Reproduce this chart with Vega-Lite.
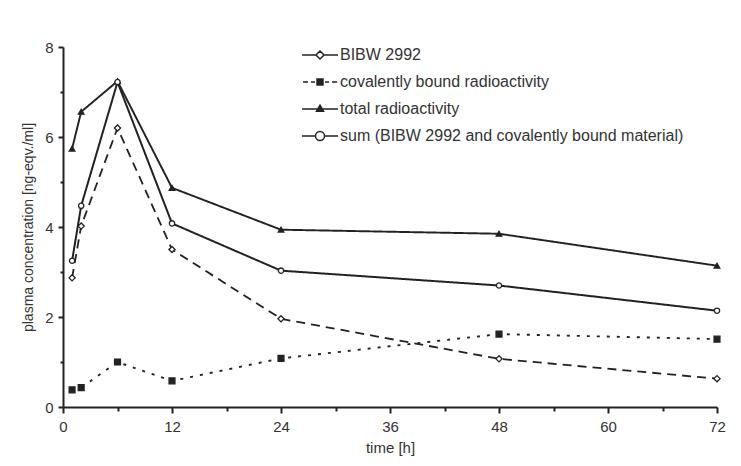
{
  "$schema": "https://vega.github.io/schema/vega-lite/v6.json",
  "width": 654,
  "height": 360,
  "autosize": "none",
  "padding": {"left": 63, "top": 47, "right": 24, "bottom": 59},
  "background": "white",
  "data": {
    "values": [
      {"t": 1, "conc": 2.87, "series": "BIBW 2992"},
      {"t": 2, "conc": 4.02, "series": "BIBW 2992"},
      {"t": 6, "conc": 6.2, "series": "BIBW 2992"},
      {"t": 12, "conc": 3.5, "series": "BIBW 2992"},
      {"t": 24, "conc": 1.96, "series": "BIBW 2992"},
      {"t": 48, "conc": 1.07, "series": "BIBW 2992"},
      {"t": 72, "conc": 0.63, "series": "BIBW 2992"},
      {"t": 1, "conc": 0.38, "series": "covalently bound radioactivity"},
      {"t": 2, "conc": 0.43, "series": "covalently bound radioactivity"},
      {"t": 6, "conc": 1.0, "series": "covalently bound radioactivity"},
      {"t": 12, "conc": 0.58, "series": "covalently bound radioactivity"},
      {"t": 24, "conc": 1.08, "series": "covalently bound radioactivity"},
      {"t": 48, "conc": 1.62, "series": "covalently bound radioactivity"},
      {"t": 72, "conc": 1.51, "series": "covalently bound radioactivity"},
      {"t": 1, "conc": 5.74, "series": "total radioactivity"},
      {"t": 2, "conc": 6.56, "series": "total radioactivity"},
      {"t": 6, "conc": 7.24, "series": "total radioactivity"},
      {"t": 12, "conc": 4.87, "series": "total radioactivity"},
      {"t": 24, "conc": 3.94, "series": "total radioactivity"},
      {"t": 48, "conc": 3.85, "series": "total radioactivity"},
      {"t": 72, "conc": 3.14, "series": "total radioactivity"},
      {"t": 1, "conc": 3.25, "series": "sum (BIBW 2992 and covalently bound material)"},
      {"t": 2, "conc": 4.47, "series": "sum (BIBW 2992 and covalently bound material)"},
      {"t": 6, "conc": 7.22, "series": "sum (BIBW 2992 and covalently bound material)"},
      {"t": 12, "conc": 4.08, "series": "sum (BIBW 2992 and covalently bound material)"},
      {"t": 24, "conc": 3.03, "series": "sum (BIBW 2992 and covalently bound material)"},
      {"t": 48, "conc": 2.7, "series": "sum (BIBW 2992 and covalently bound material)"},
      {"t": 72, "conc": 2.14, "series": "sum (BIBW 2992 and covalently bound material)"}
    ]
  },
  "encoding": {
    "x": {
      "field": "t",
      "type": "quantitative",
      "scale": {"domain": [0, 72], "nice": false},
      "axis": {
        "title": "time [h]",
        "values": [0, 6, 12, 18, 24, 30, 36, 42, 48, 54, 60, 66, 72],
        "labelExpr": "datum.value % 12 ? '' : datum.label",
        "tickSize": {"condition": {"test": "datum.value % 12", "value": 4}, "value": 6},
        "labelFlush": false,
        "labelOverlap": false,
        "labelPadding": 6,
        "titlePadding": 6
      }
    },
    "y": {
      "field": "conc",
      "type": "quantitative",
      "scale": {"domain": [0, 8], "nice": false},
      "axis": {
        "title": "plasma concentration [ng-eqv./ml]",
        "values": [0, 1, 2, 3, 4, 5, 6, 7, 8],
        "labelExpr": "datum.value % 2 ? '' : datum.label",
        "tickSize": {"condition": {"test": "datum.value % 2", "value": 3}, "value": 5},
        "labelOverlap": false,
        "labelPadding": 5,
        "titleFontSize": 14,
        "titlePadding": 9
      }
    }
  },
  "layer": [
    {
      "mark": {"type": "line", "stroke": "#222", "strokeCap": "butt"},
      "encoding": {
        "strokeDash": {
          "field": "series",
          "type": "nominal",
          "scale": {
            "domain": ["BIBW 2992", "covalently bound radioactivity", "total radioactivity", "sum (BIBW 2992 and covalently bound material)"],
            "range": [[9, 6], [3, 7], [1, 0], [1, 0]]
          },
          "legend": null
        },
        "strokeWidth": {
          "field": "series",
          "type": "nominal",
          "scale": {
            "domain": ["BIBW 2992", "covalently bound radioactivity", "total radioactivity", "sum (BIBW 2992 and covalently bound material)"],
            "range": [1.8, 2, 1, 1.8]
          },
          "legend": null
        }
      }
    },
    {
      "mark": {"type": "point", "filled": true, "opacity": 1, "stroke": "#222", "strokeWidth": 1.3},
      "encoding": {
        "shape": {
          "field": "series",
          "type": "nominal",
          "scale": {
            "domain": ["BIBW 2992", "covalently bound radioactivity", "total radioactivity", "sum (BIBW 2992 and covalently bound material)"],
            "range": ["diamond", "square", "triangle-up", "circle"]
          },
          "legend": null
        },
        "fill": {
          "field": "series",
          "type": "nominal",
          "scale": {
            "domain": ["BIBW 2992", "covalently bound radioactivity", "total radioactivity", "sum (BIBW 2992 and covalently bound material)"],
            "range": ["white", "#222", "#222", "white"]
          },
          "legend": null
        },
        "size": {
          "field": "series",
          "type": "nominal",
          "scale": {
            "domain": ["BIBW 2992", "covalently bound radioactivity", "total radioactivity", "sum (BIBW 2992 and covalently bound material)"],
            "range": [38, 28, 22, 55]
          },
          "legend": null
        }
      }
    },
    {
      "transform": [{"filter": "false"}],
      "mark": {"type": "point", "filled": false, "opacity": 1, "stroke": "#222", "size": 100},
      "encoding": {
        "shape": {
          "field": "series",
          "type": "nominal",
          "scale": {
            "domain": ["BIBW 2992", "covalently bound radioactivity", "total radioactivity", "sum (BIBW 2992 and covalently bound material)"],
            "range": [
              "M-3.6,0H-0.8M0.8,0H3.6M0,-0.8L0.8,0L0,0.8L-0.8,0Z",
              "M-3.4,0H-2.4M-1.8,0H-1M1,0H1.8M2.4,0H3.4M-0.6,-0.6H0.6V0.6H-0.6ZM-0.6,-0.3H0.6M-0.6,0H0.6M-0.6,0.3H0.6",
              "M-3.6,0H3.6M0,-0.75L0.7,0.45H-0.7ZM-0.4,0.2H0.4M-0.2,-0.25H0.2",
              "M-3.6,0H-0.9M0.9,0H3.6M0.9,0A0.9,0.9,0,1,1,-0.9,0A0.9,0.9,0,1,1,0.9,0Z"
            ]
          },
          "legend": {
            "title": null,
            "orient": "none",
            "legendX": 249,
            "legendY": 0,
            "padding": 0,
            "symbolSize": 100,
            "labelFontSize": 16,
            "labelColor": "#333",
            "labelOffset": 12,
            "labelLimit": 500,
            "rowPadding": 11,
            "encode": {
              "symbols": {
                "fill": {"value": "white"},
                "stroke": {"value": "#222"},
                "strokeWidth": {"value": 1.5},
                "opacity": {"value": 1}
              }
            }
          }
        }
      }
    }
  ],
  "resolve": {"scale": {"shape": "independent"}},
  "config": {
    "view": {"stroke": null},
    "font": "Liberation Sans",
    "axis": {
      "grid": false,
      "domainColor": "#222",
      "domainWidth": 2,
      "tickColor": "#222",
      "tickWidth": 2,
      "labelFontSize": 15,
      "labelColor": "#333",
      "titleFontSize": 15,
      "titleFontWeight": "normal",
      "titleColor": "#333"
    }
  }
}
